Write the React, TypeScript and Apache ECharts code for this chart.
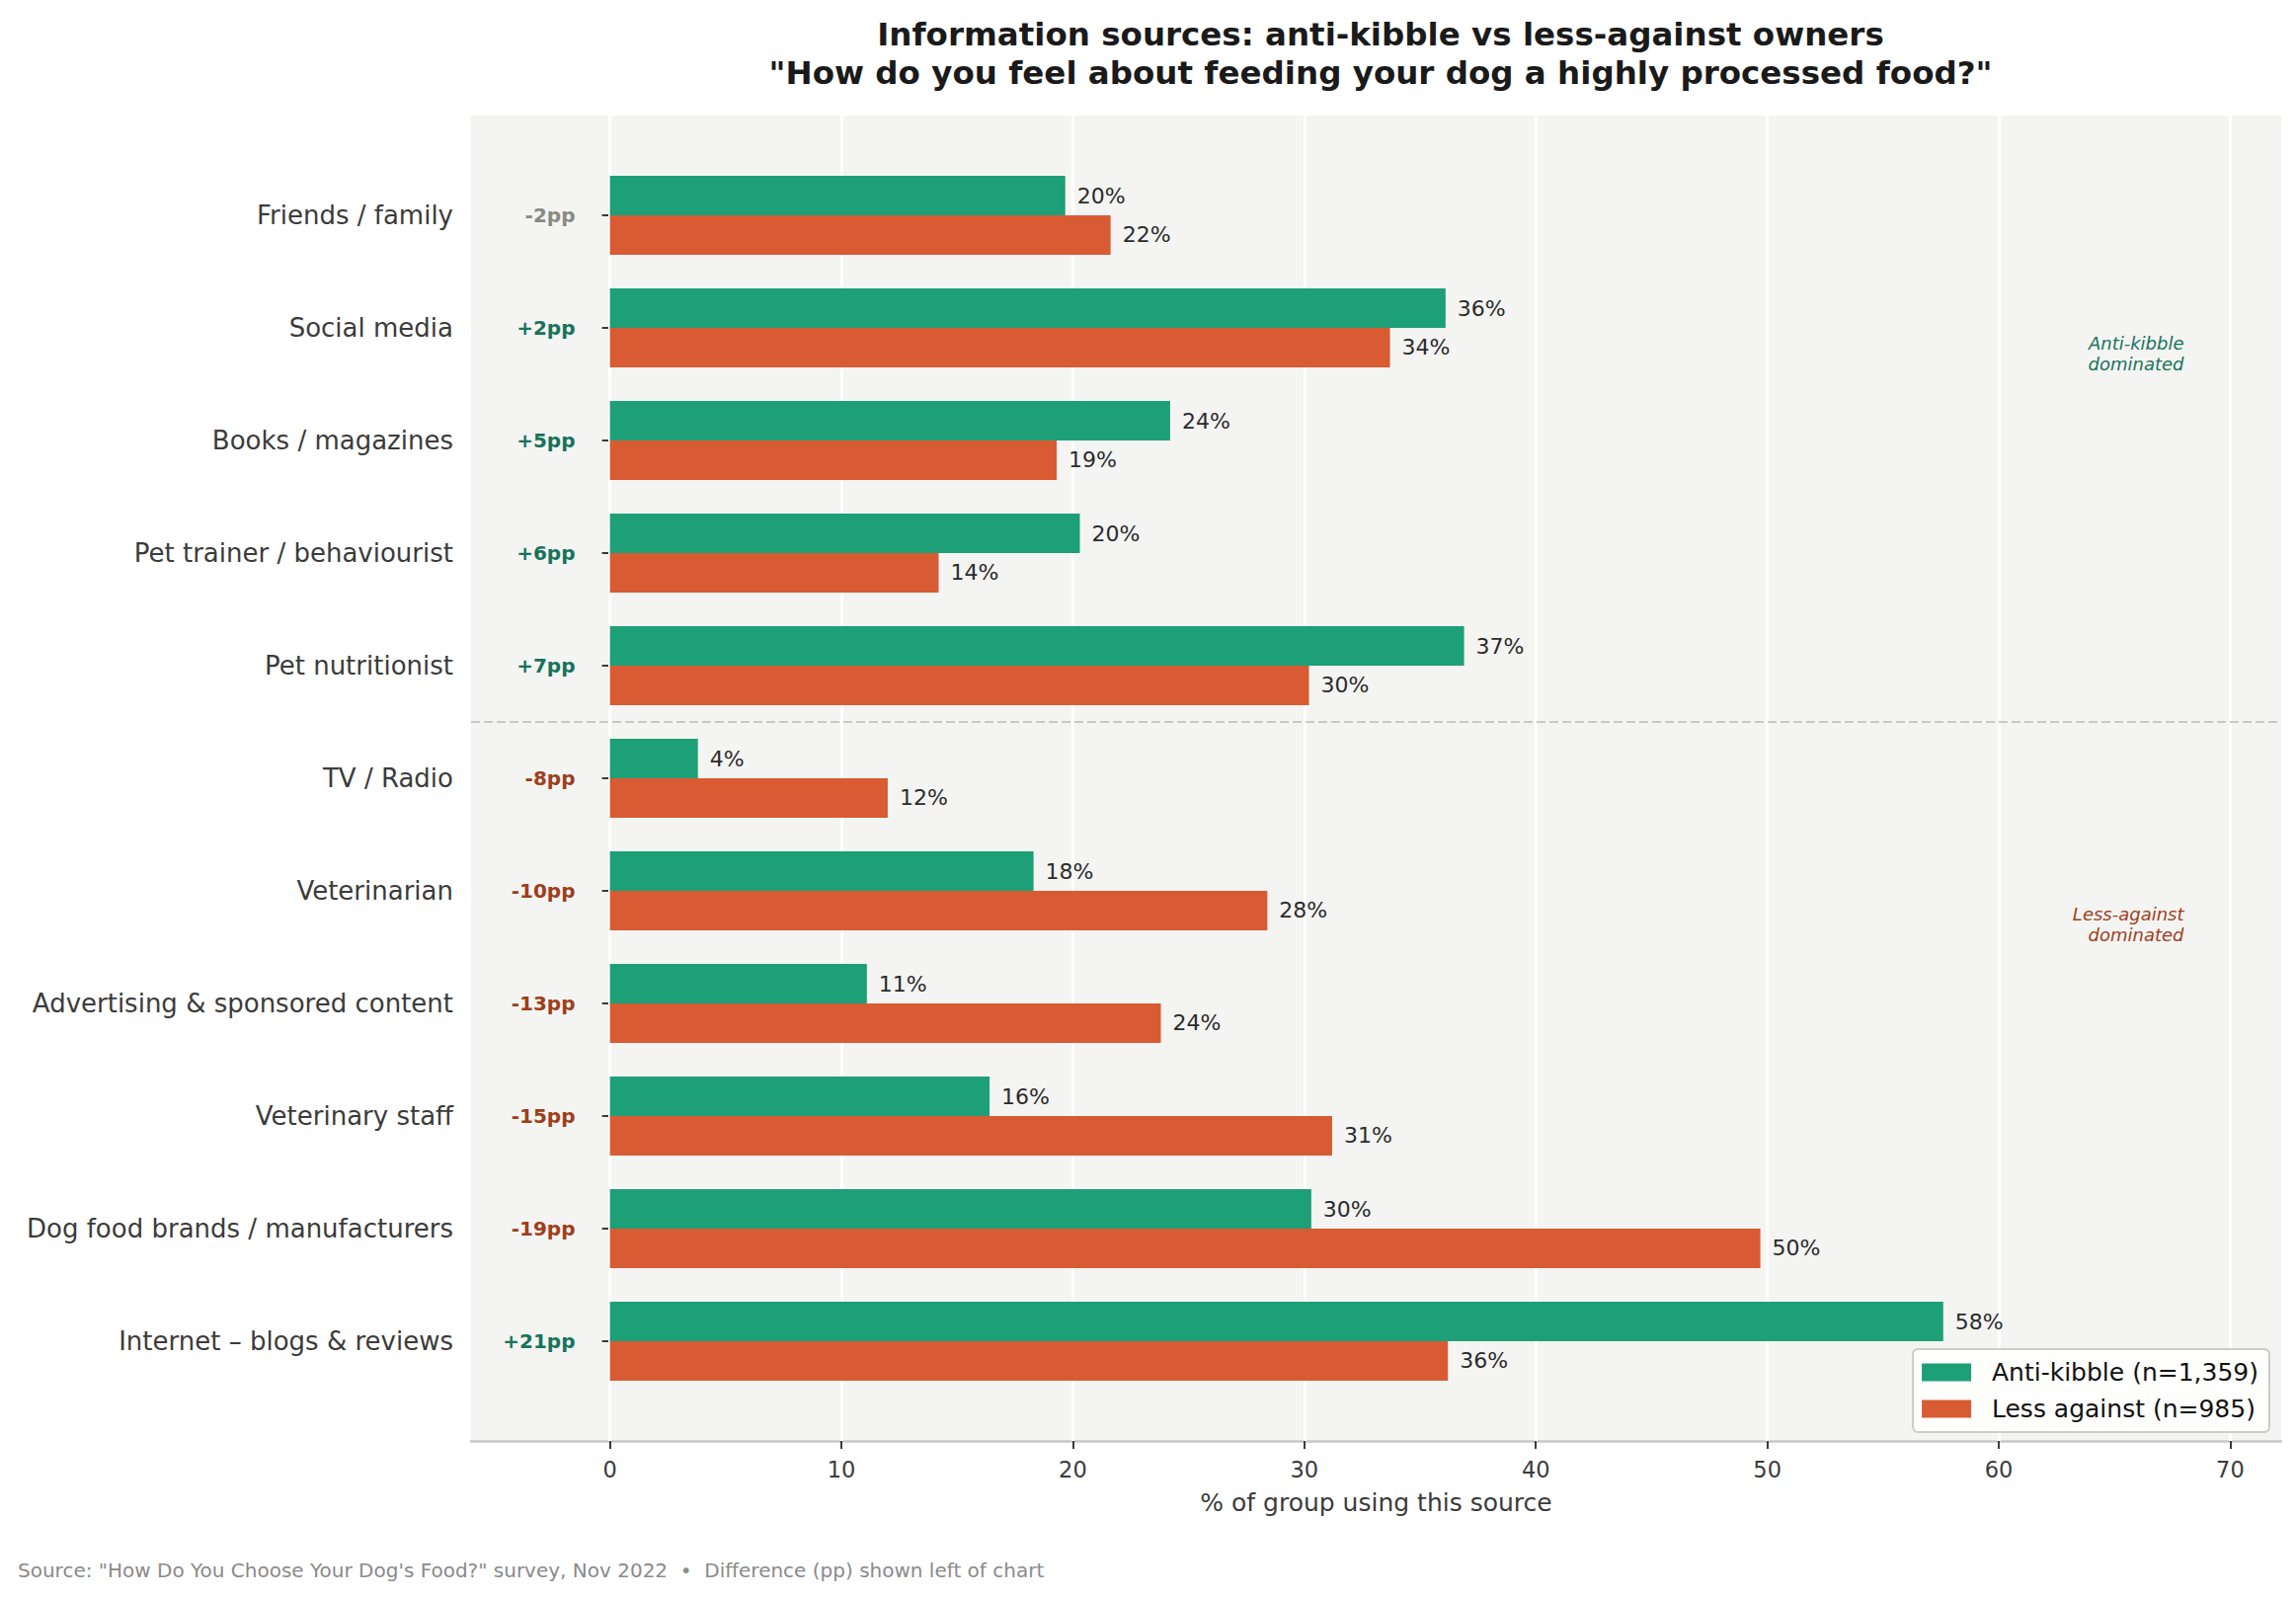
import React, { useEffect, useRef } from "react";
import * as echarts from "echarts";

const categories = [
  "Friends / family",
  "Social media",
  "Books / magazines",
  "Pet trainer / behaviourist",
  "Pet nutritionist",
  "TV / Radio",
  "Veterinarian",
  "Advertising & sponsored content",
  "Veterinary staff",
  "Dog food brands / manufacturers",
  "Internet – blogs & reviews",
];
const antiKibble = [19.67, 36.1, 24.2, 20.3, 36.9, 3.8, 18.3, 11.1, 16.4, 30.3, 57.6];
const lessAgainst = [21.63, 33.7, 19.3, 14.2, 30.2, 12.0, 28.4, 23.8, 31.2, 49.7, 36.2];
const xTicks = [0, 10, 20, 30, 40, 50, 60, 70];
const seriesNames = ["Anti-kibble (n=1,359)", "Less against (n=985)"];
const annotations = [
  { x: 68, y: 1.23, text: "Anti-kibble\ndominated", color: "#17735a" },
  { x: 68, y: 6.3, text: "Less-against\ndominated", color: "#9e3e1c" },
];
const diffX = -1.5;
const separatorY = 4.5;

const GREEN = "#1d9f77";
const ORANGE = "#d85b33";
const FONT = "DejaVu Sans";

export default function App() {
  const ref = useRef<HTMLDivElement>(null);
  useEffect(() => {
    if (!ref.current) return;
    const chart = echarts.init(ref.current, null, { renderer: "svg" });
    const diffs = antiKibble.map((a, i) => a - lessAgainst[i]);
    const diffData = diffs.map((d, i) => {
      const r = Math.round(d);
      const color = Math.abs(d) < 2 ? "#8a8a82" : d > 0 ? "#17735a" : "#9e3e1c";
      return {
        value: [diffX, i],
        label: { formatter: (r > 0 ? "+" : "") + r + "pp", color },
      };
    });
    const xMin = -6;
    const xMax = 72.2;
    const barLabel = {
      show: true,
      position: "right",
      distance: 12,
      fontFamily: FONT,
      fontSize: 22,
      color: "#2b2b2b",
      formatter: (p: any) => Math.round(p.value) + "%",
    };
    const option: any = {
      animation: false,
      backgroundColor: "#ffffff",
      textStyle: { fontFamily: FONT },
      title: {
        text: 'Information sources: anti-kibble vs less-against owners\n"How do you feel about feeding your dog a highly processed food?"',
        left: 1393,
        textAlign: "center",
        top: 11,
        textStyle: {
          fontFamily: FONT,
          fontSize: 32.5,
          fontWeight: "bold",
          color: "#1a1a1a",
          lineHeight: 38.5,
        },
      },
      legend: {
        data: seriesNames,
        orient: "vertical",
        right: 27,
        top: 1366,
        icon: "rect",
        itemWidth: 50,
        itemHeight: 18,
        itemGap: 12,
        padding: [11, 11, 11, 9],
        backgroundColor: "rgba(255,255,255,0.85)",
        borderColor: "#cccccc",
        borderWidth: 2,
        borderRadius: 5,
        formatter: (n: string) => "  " + n,
        textStyle: { fontFamily: FONT, fontSize: 25, color: "#111111" },
      },
      grid: [
        { left: 477, right: 15, top: 161, bottom: 203, containLabel: false },
        {
          left: 477,
          right: 15,
          top: 117,
          bottom: 159,
          show: true,
          backgroundColor: "#f4f4f2",
          borderWidth: 0,
          containLabel: false,
        },
      ],
      xAxis: [
        { gridIndex: 0, type: "value", min: xMin, max: xMax, show: false },
        {
          gridIndex: 1,
          type: "value",
          min: xMin,
          max: xMax,
          position: "bottom",
          name: "% of group using this source",
          nameLocation: "middle",
          nameGap: 50,
          nameTextStyle: { fontFamily: FONT, fontSize: 25, color: "#3b3b3b" },
          axisLine: { show: true, onZero: false, lineStyle: { color: "#c8c8c8", width: 2.5 } },
          axisTick: {
            show: true,
            customValues: xTicks,
            length: 8,
            lineStyle: { color: "#3b3b3b", width: 2 },
          },
          axisLabel: {
            customValues: xTicks,
            fontFamily: FONT,
            fontSize: 22.5,
            color: "#3b3b3b",
            margin: 17,
          },
          splitLine: { show: false },
        },
      ],
      yAxis: [
        {
          gridIndex: 0,
          type: "category",
          data: categories,
          inverse: true,
          axisLine: { show: false },
          axisTick: {
            show: true,
            alignWithLabel: true,
            length: 8,
            lineStyle: { color: "#3b3b3b", width: 2 },
          },
          axisLabel: {
            fontFamily: FONT,
            fontSize: 26,
            color: "#3b3b3b",
            margin: 18,
          },
          splitLine: { show: false },
        },
        {
          gridIndex: 1,
          type: "value",
          inverse: true,
          min: -0.885,
          max: 10.885,
          show: false,
          axisLine: { onZero: false },
          splitLine: { show: false },
        },
      ],
      series: [
        {
          name: "annotations",
          type: "scatter",
          xAxisIndex: 1,
          yAxisIndex: 1,
          z: 1,
          silent: true,
          symbolSize: 0,
          itemStyle: { opacity: 1 },
          data: annotations.map((a) => ({
            value: [a.x, a.y],
            label: {
              show: true,
              position: "left",
              distance: 0,
              formatter: a.text,
              align: "right",
              color: a.color,
              opacity: 1,
              fontFamily: FONT,
              fontStyle: "italic",
              fontSize: 18,
              lineHeight: 21.5,
            },
          })),
          markLine: {
            silent: true,
            z: 1,
            symbol: ["none", "none"],
            label: { show: false },
            data: [
              ...xTicks.map((t) => ({
                xAxis: t,
                lineStyle: { color: "#ffffff", width: 3, type: "solid", opacity: 1 },
              })),
              {
                yAxis: separatorY,
                lineStyle: { color: "#c8c8c8", width: 2, type: [9, 4], opacity: 1 },
              },
            ],
          },
        },
        {
          name: seriesNames[0],
          type: "bar",
          xAxisIndex: 0,
          yAxisIndex: 0,
          z: 3,
          data: antiKibble,
          barWidth: "35%",
          barGap: "0%",
          itemStyle: { color: GREEN },
          label: barLabel,
        },
        {
          name: seriesNames[1],
          type: "bar",
          xAxisIndex: 0,
          yAxisIndex: 0,
          z: 3,
          data: lessAgainst,
          barWidth: "35%",
          barGap: "0%",
          itemStyle: { color: ORANGE },
          label: barLabel,
        },
        {
          name: "diff",
          type: "scatter",
          xAxisIndex: 0,
          yAxisIndex: 0,
          z: 3,
          silent: true,
          symbolSize: 0,
          itemStyle: { opacity: 1 },
          data: diffData,
          label: {
            show: true,
            position: "left",
            distance: 0,
            align: "right",
            opacity: 1,
            fontFamily: FONT,
            fontSize: 20,
            fontWeight: "bold",
          },
        },
      ],
      graphic: [
        {
          type: "text",
          left: 18,
          top: 1580,
          style: {
            text: 'Source: "How Do You Choose Your Dog\'s Food?" survey, Nov 2022  •  Difference (pp) shown left of chart',
            fontFamily: FONT,
            fontSize: 20,
            fill: "#8a8a8a",
          },
        },
      ],
    };
    chart.setOption(option);
    return () => chart.dispose();
  }, []);
  return (
    <div
      ref={ref}
      style={{ position: "absolute", left: 0, top: 0, width: 2325, height: 1618 }}
    />
  );
}
